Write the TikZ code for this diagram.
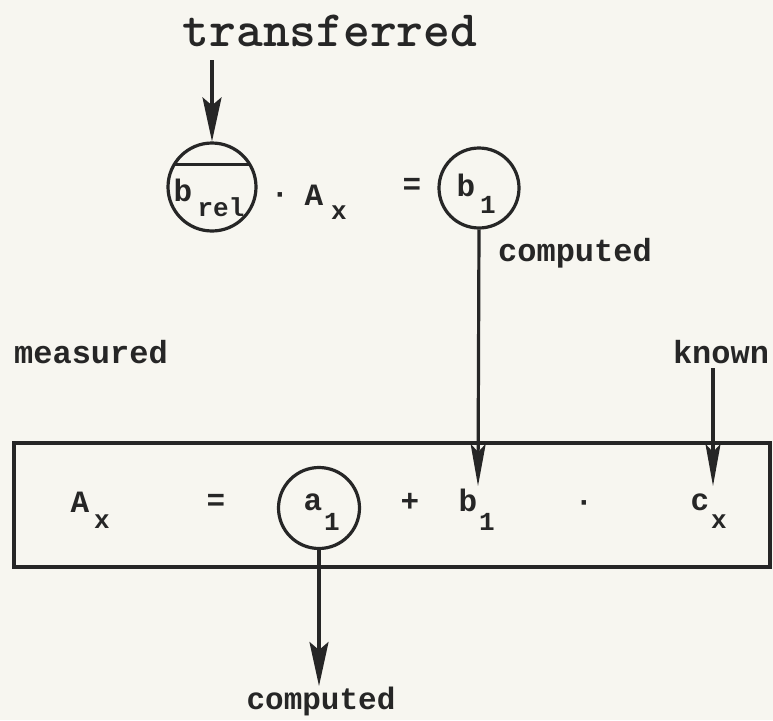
\documentclass[tikz,border=0pt]{standalone}
\usepackage{fontspec}
\setmonofont{Liberation Mono}
\newfontfamily\twfont{lmmonolt10-bold.otf}
\usetikzlibrary{arrows.meta}
\definecolor{ink}{RGB}{38,38,38}
\definecolor{paper}{RGB}{247,246,240}
\tikzset{
  txt/.style={inner sep=0pt, text=ink, font=\ttfamily\bfseries\fontsize{31}{31}\selectfont},
  sub/.style={inner sep=0pt, text=ink, font=\ttfamily\bfseries\fontsize{26}{26}\selectfont},
  lbl/.style={inner sep=0pt, text=ink, font=\ttfamily\bfseries\fontsize{32}{32}\selectfont},
  big/.style={inner sep=0pt, text=ink, font=\twfont\fontsize{51}{51}\selectfont},
  ring/.style={circle, draw=ink, line width=3.2pt, inner sep=0pt},
  ln/.style={draw=ink, line width=3.2pt},
  arr/.style={ln, -{Stealth[length=44pt,width=19pt,inset=8pt]}},
  arrs/.style={ln, -{Stealth[length=42pt,width=15pt,inset=8pt]}}
}
\begin{document}
\begin{tikzpicture}[x=1pt,y=-1pt]
\fill[paper] (0,0) rectangle (773,720);
\useasboundingbox (0,0) rectangle (773,720);

% top equation
\node[big] (tr) at (330,31) {transferred};
\coordinate (trs) at (212,60);
\node[ring, minimum size=88pt] (brel) at (212,187) {};
\draw[ln] (brel.150) -- (brel.30);
\node[txt] (brelb) at (183,190) {b};
\node[sub] (brels) at (221,207) {rel};
\node[txt] (dot1) at (280,198) {·};
\node[txt] (axt) at (314,195) {A};
\node[sub] (axts) at (339,213) {x};
\node[txt] (eq1) at (412,186) {=};
\node[ring, minimum size=80pt] (b1c) at (479,188) {};
\node[txt] (b1cb) at (466,185) {b};
\node[sub] (b1cs) at (488,205) {1};
\draw[arr] (trs) -- (brel.north);

% labels
\node[lbl] (comp1) at (575,253) {computed};
\node[lbl] (meas) at (91,352) {measured};
\node[lbl] (known) at (721,352) {known};
\coordinate (kns) at (713,368);

% box equation
\node[draw=ink, line width=3.2pt, minimum width=756pt, minimum height=124pt, inner sep=0pt] (box) at (392,505) {};
\node[txt] (axb) at (80,502) {A};
\node[sub] (axbs) at (102,522) {x};
\node[txt] (eq2) at (216,502) {=};
\node[ring, minimum size=81pt] (a1c) at (319,508) {};
\node[txt] (a1b) at (313,502) {a};
\node[sub] (a1bs) at (332,522) {1};
\node[txt] (plus) at (410,502) {+};
\node[txt] (b1b) at (468,500) {b};
\node[sub] (b1bs) at (487,522) {1};
\node[txt] (dot2) at (584,506) {·};
\node[txt] (cx) at (700,502) {c};
\node[sub] (cxs) at (719,522) {x};
\coordinate (tipb) at (478,486);
\coordinate (tipc) at (713,486);
\draw[arrs] (b1c.south) -- (tipb);
\draw[arrs] (kns) -- (tipc);

% bottom
\node[lbl, font=\ttfamily\bfseries\fontsize{31}{31}\selectfont] (comp2) at (321,701) {computed};
\coordinate (tipa) at (319,686);
\draw[arr] (a1c.south) -- (tipa);
\end{tikzpicture}
\end{document}
